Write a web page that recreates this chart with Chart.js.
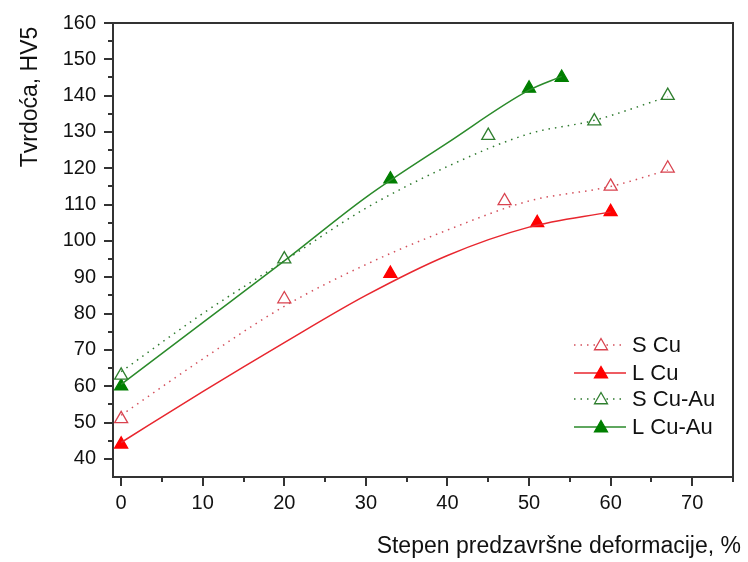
<!DOCTYPE html>
<html lang="sr">
<head>
<meta charset="UTF-8">
<title>Tvrdoća</title>
<style>
  body { margin: 0; background: #fff; }
  canvas { display: block; }
</style>
</head>
<body>
<canvas id="chart" width="748" height="562"></canvas>
<script src="https://cdn.jsdelivr.net/npm/chart.js"></script>
<script>
// measured points
const sCuX = [0, 20, 47, 60, 67];
const sCuY = [51, 84, 111, 115, 120];
const lCuX = [0, 33, 51, 60];
const lCuY = [44, 91, 105, 108];
const sCuAuX = [0, 20, 45, 58, 67];
const sCuAuY = [63, 95, 129, 133, 140];
const lCuAuX = [0, 33, 50, 54];
const lCuAuY = [60, 117, 142, 145];

// fitted curves
const sCuFitX = [0, 10, 20, 30, 40, 50, 60, 67];
const sCuFitY = [52, 67.5, 82, 93.5, 103, 111, 115, 119.5];
const lCuFitX = [0, 10, 20, 30, 40, 50, 60];
const lCuFitY = [44.5, 58.5, 72, 85, 96, 103.8, 108];
const sCuAuFitX = [0, 10, 20, 30, 40, 50, 58, 67];
const sCuAuFitY = [64, 80, 94.5, 109, 120.5, 129.5, 133.2, 139.7];
const lCuAuFitX = [0, 10, 20, 30, 40, 50, 54];
const lCuAuFitY = [60.5, 77.5, 94.5, 112, 127, 141.5, 145.3];

const seriesNames = ['S Cu', 'L Cu', 'S Cu-Au', 'L Cu-Au'];
const xTicksMinor = [5, 15, 25, 35, 45, 55, 65, 75];
const yTicksMinor = [45, 55, 65, 75, 85, 95, 105, 115, 125, 135, 145, 155];

const FONT = 'Liberation Sans, Arial, sans-serif';
const AXIS = '#333';

function pts(xs, ys) { return xs.map((x, i) => ({ x: x, y: ys[i] })); }

const styles = [
  { line: '#d4505c', mark: '#d9434f', fill: '#fff', dash: [1.5, 5] },
  { line: '#e8262e', mark: '#ff0000', fill: '#ff0000', dash: [] },
  { line: '#2e7a2e', mark: '#2f7f2f', fill: '#fff', dash: [1.5, 5] },
  { line: '#2a8a2a', mark: '#007f00', fill: '#007f00', dash: [] }
];
const fits = [[sCuFitX, sCuFitY], [lCuFitX, lCuFitY], [sCuAuFitX, sCuAuFitY], [lCuAuFitX, lCuAuFitY]];
const marks = [[sCuX, sCuY], [lCuX, lCuY], [sCuAuX, sCuAuY], [lCuAuX, lCuAuY]];

const datasets = [];
fits.forEach((f, i) => {
  datasets.push({
    label: seriesNames[i] + ' fit',
    data: pts(f[0], f[1]),
    showLine: true,
    borderColor: styles[i].line,
    borderWidth: 1.5,
    borderDash: styles[i].dash,
    pointRadius: 0,
    cubicInterpolationMode: 'monotone'
  });
});
marks.forEach((m, i) => {
  datasets.push({
    label: seriesNames[i],
    data: pts(m[0], m[1]),
    showLine: false,
    pointStyle: 'triangle',
    pointRadius: 7.5,
    pointBorderWidth: 1.3,
    pointBorderColor: styles[i].mark,
    pointBackgroundColor: styles[i].fill
  });
});

function drawTri(ctx, x, y, r, fill, stroke) {
  ctx.beginPath();
  for (let k = 0; k < 3; k++) {
    const a = k * 2 * Math.PI / 3;
    const px = x + Math.sin(a) * r, py = y - Math.cos(a) * r;
    if (k === 0) ctx.moveTo(px, py); else ctx.lineTo(px, py);
  }
  ctx.closePath();
  ctx.fillStyle = fill;
  ctx.fill();
  ctx.lineWidth = 1.3;
  ctx.strokeStyle = stroke;
  ctx.stroke();
}

const extras = {
  id: 'extras',
  afterDraw(chart) {
    const ctx = chart.ctx;
    const a = chart.chartArea;
    const xs = chart.scales.x, ys = chart.scales.y;
    ctx.save();
    // frame top / right
    ctx.strokeStyle = AXIS;
    ctx.lineWidth = 2;
    ctx.beginPath();
    ctx.moveTo(a.left, a.top); ctx.lineTo(a.right, a.top); ctx.lineTo(a.right, a.bottom);
    ctx.stroke();
    // minor ticks
    ctx.beginPath();
    xTicksMinor.forEach(v => {
      const px = Math.round(xs.getPixelForValue(v));
      ctx.moveTo(px, a.bottom); ctx.lineTo(px, a.bottom + 5);
    });
    yTicksMinor.forEach(v => {
      const py = Math.round(ys.getPixelForValue(v));
      ctx.moveTo(a.left - 5, py); ctx.lineTo(a.left, py);
    });
    ctx.stroke();

    // legend
    const lx = 574, rowY = [345, 373, 399, 427];
    ctx.font = '22px ' + FONT;
    ctx.textBaseline = 'middle';
    ctx.textAlign = 'left';
    seriesNames.forEach((name, i) => {
      const s = styles[i];
      ctx.strokeStyle = s.line;
      ctx.lineWidth = 1.5;
      ctx.setLineDash(s.dash);
      ctx.beginPath();
      ctx.moveTo(lx, rowY[i]); ctx.lineTo(lx + 52, rowY[i]);
      ctx.stroke();
      ctx.setLineDash([]);
      drawTri(ctx, lx + 27, rowY[i] + 1, 7.5, s.fill, s.mark);
      ctx.fillStyle = '#111';
      ctx.fillText(name, lx + 58, rowY[i] + 1);
    });

    // axis titles
    ctx.fillStyle = '#111';
    ctx.font = '23px ' + FONT;
    ctx.textBaseline = 'alphabetic';
    ctx.textAlign = 'right';
    ctx.fillText('Stepen predzavršne deformacije, %', 741, 553);
    ctx.translate(37, 97);
    ctx.rotate(-Math.PI / 2);
    ctx.textAlign = 'center';
    ctx.fillText('Tvrdoća, HV5', 0, 0);
    ctx.restore();
  }
};

new Chart(document.getElementById('chart'), {
  type: 'scatter',
  data: { datasets: datasets },
  options: {
    responsive: false,
    devicePixelRatio: 1,
    animation: false,
    layout: { padding: { top: 23, right: 15, left: 0, bottom: 0 } },
    plugins: { legend: { display: false }, tooltip: { enabled: false } },
    scales: {
      x: {
        type: 'linear',
        min: -1,
        max: 75,
        afterFit: s => { s.height = 85; },
        ticks: { stepSize: 10, includeBounds: false, color: '#111', padding: 5, maxRotation: 0, font: { family: FONT, size: 20 } },
        grid: { drawOnChartArea: false, tickLength: 9, color: AXIS, lineWidth: 2 },
        border: { color: AXIS, width: 2 }
      },
      y: {
        min: 35,
        max: 160,
        afterFit: s => { s.width = 113; },
        ticks: { stepSize: 10, includeBounds: false, color: '#111', padding: 8, font: { family: FONT, size: 20 } },
        grid: { drawOnChartArea: false, tickLength: 9, color: AXIS, lineWidth: 2 },
        border: { color: AXIS, width: 2 }
      }
    }
  },
  plugins: [extras]
});
</script>
</body>
</html>
